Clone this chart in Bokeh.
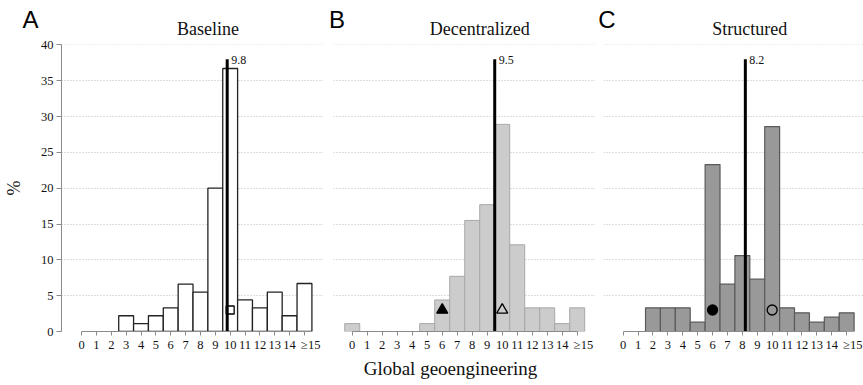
from bokeh.plotting import figure
from bokeh.layouts import row, column
from bokeh.models import FixedTicker, Range1d, Grid, Spacer
from bokeh.core.properties import value
from bokeh.embed import file_html
from bokeh.resources import INLINE

# ---------------- data ----------------
categories = list(range(16))
tick_labels = [str(i) for i in range(15)] + ["≥15"]
panel_letters = ["A", "B", "C"]
panel_titles = ["Baseline", "Decentralized", "Structured"]

baseline = [0, 0, 0, 2.2, 1.1, 2.2, 3.3, 6.6, 5.5, 20.0, 36.7, 4.4, 3.3, 5.5, 2.2, 6.7]
decentralized = [1.1, 0, 0, 0, 0, 1.1, 4.4, 7.7, 15.5, 17.7, 28.9, 12.1, 3.3, 3.3, 1.1, 3.3]
structured = [0, 0, 3.3, 3.3, 3.3, 1.3, 23.3, 6.6, 10.6, 7.3, 28.6, 3.3, 2.6, 1.3, 2.0, 2.6]

mean_values = [9.8, 9.5, 8.2]
mean_line_top = 38

marker_x = [[10], [6, 10], [6, 10]]
marker_y = 3
marker_kind = ["square", "triangle", "circle"]
marker_filled = [[False], [True, False], [True, False]]

y_ticks = [0, 5, 10, 15, 20, 25, 30, 35, 40]
x_label = "Global geoengineering"
y_label = "%"

# ---------------- style / layout ----------------
SERIF = "Liberation Serif"
SANS = "Liberation Sans"
TXT = "#111111"
AX = "#8a8a8a"

series = [baseline, decentralized, structured]
fills = ["#ffffff", "#cccccc", "#999999"]
lines = ["#222222", "#a8a8a8", "#5a5a5a"]
lws = [1.3, 1.0, 1.2]
widths = [323, 272, 268]
left_borders = [61, 10, 8]
x_ranges = [(-1.35, 16.28), (-1.25, 16.22), (-1.32, 16.13)]
letter_x = [-3.43, -1.01, -1.09]
title_x = 8.5
xlabel_x = 6.55
marker_sizes = {"square": 8, "triangle": 11, "circle": 10}
LAST_LABEL_PAD = "\u2003"   # nudges the open-ended last tick label right, as in the original

HEADER_H = 38
FOOTER_H = 28
FRAME_H = 287
TOP_B = 6
BOTTOM_B = 385 - HEADER_H - FOOTER_H - FRAME_H - TOP_B
PANEL_H = 385 - HEADER_H - FOOTER_H


def strip_fig(i, height):
    xs, xe = x_ranges[i]
    fw = widths[i] - left_borders[i]
    ppu = fw / (xe - xs)
    f = figure(width=widths[i], height=height, output_backend="svg", toolbar_location=None,
               x_range=Range1d(xs - left_borders[i] / ppu, xe), y_range=Range1d(height, 0),
               min_border=0, x_axis_location=None, y_axis_location=None)
    f.outline_line_color = None
    f.grid.visible = False
    return f


label_map = {c: t for c, t in zip(categories, tick_labels)}
label_map[categories[-1]] = LAST_LABEL_PAD + tick_labels[-1]

headers, panels, footers = [], [], []
for i in range(3):
    h = strip_fig(i, HEADER_H)
    h.text(x=[letter_x[i]], y=[18.5], text=[panel_letters[i]], text_font=value(SANS),
           text_font_size="24px", text_align="center", text_baseline="middle", text_color="black")
    h.text(x=[title_x], y=[28.5], text=[panel_titles[i]], text_font=value(SERIF),
           text_font_size="18px", text_align="center", text_baseline="middle", text_color=TXT)
    headers.append(h)

    p = figure(width=widths[i], height=PANEL_H, output_backend="svg", toolbar_location=None,
               x_range=Range1d(*x_ranges[i]), y_range=Range1d(0, 40.05),
               min_border_left=left_borders[i], min_border_right=0,
               min_border_top=TOP_B, min_border_bottom=BOTTOM_B,
               y_axis_location="left" if i == 0 else None)
    p.outline_line_color = None
    p.xgrid.visible = False
    p.ygrid.visible = False
    p.add_layout(Grid(dimension=1, ticker=FixedTicker(ticks=y_ticks),
                      grid_line_color="#bdbdbd", grid_line_dash="1 2", grid_line_width=1))

    xa = p.xaxis[0]
    xa.ticker = FixedTicker(ticks=categories)
    xa.major_label_overrides = label_map
    xa.bounds = (categories[0], categories[-1])
    xa.axis_line_color = AX
    xa.major_tick_line_color = AX
    xa.minor_tick_line_color = None
    xa.major_tick_out = 4
    xa.major_tick_in = 0
    xa.major_label_standoff = 2
    xa.major_label_text_font = SERIF
    xa.major_label_text_font_size = "12.5px"
    xa.major_label_text_color = TXT

    if i == 0:
        ya = p.yaxis[0]
        ya.ticker = FixedTicker(ticks=y_ticks)
        ya.bounds = (y_ticks[0], y_ticks[-1])
        ya.axis_line_color = AX
        ya.major_tick_line_color = AX
        ya.minor_tick_line_color = None
        ya.major_tick_out = 5
        ya.major_tick_in = 0
        ya.major_label_standoff = 3
        ya.major_label_text_font = SERIF
        ya.major_label_text_font_size = "12.5px"
        ya.major_label_text_color = TXT
        ya.major_label_orientation = "horizontal"
        ya.axis_label = y_label
        ya.axis_label_text_font = SERIF
        ya.axis_label_text_font_size = "18px"
        ya.axis_label_text_font_style = "normal"
        ya.axis_label_text_color = TXT
        ya.axis_label_standoff = 14

    vals = series[i]
    bx = [c for c, v in zip(categories, vals) if v > 0]
    bt = [v for v in vals if v > 0]
    p.vbar(x=bx, top=bt, bottom=0, width=1, fill_color=fills[i],
           line_color=lines[i], line_width=lws[i])

    m = mean_values[i]
    p.segment(x0=[m], y0=[0], x1=[m], y1=[mean_line_top], line_color="black", line_width=3)
    p.text(x=[m], y=[mean_line_top], text=[f"{m}"], x_offset=4, y_offset=1,
           text_baseline="middle", text_align="left", text_font_size="12px",
           text_color=TXT, text_font=value(SERIF))

    for xv, filled in zip(marker_x[i], marker_filled[i]):
        p.scatter(x=[xv], y=[marker_y], marker=marker_kind[i], size=marker_sizes[marker_kind[i]],
                  fill_color="black" if filled else None, line_color="black", line_width=1.3)
    panels.append(p)

    if i == 1:
        f = strip_fig(i, FOOTER_H)
        f.text(x=[xlabel_x], y=[11], text=[x_label], text_font=value(SERIF),
               text_font_size="19px", text_align="center", text_baseline="middle", text_color=TXT)
        footers.append(f)
    else:
        footers.append(Spacer(width=widths[i], height=FOOTER_H))

layout = column(row(*headers), row(*panels), row(*footers))
open("out.html", "w").write(file_html(layout, INLINE))
